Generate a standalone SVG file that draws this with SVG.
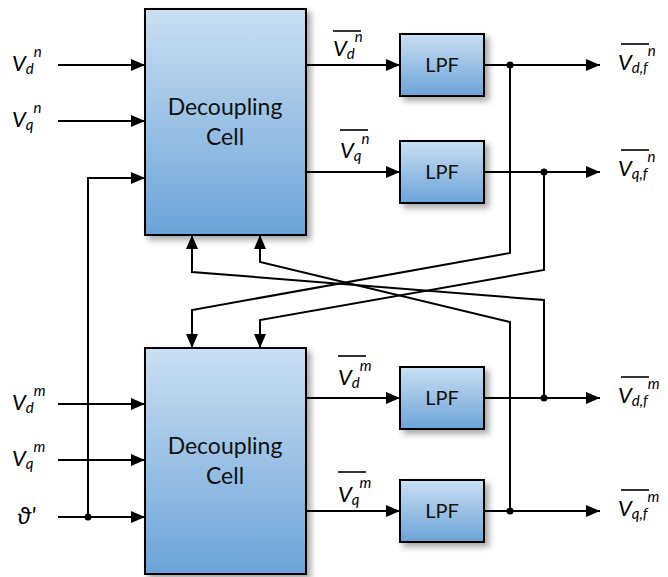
<svg xmlns="http://www.w3.org/2000/svg" width="668" height="577" viewBox="0 0 668 577">
  <defs>
    <linearGradient id="blue" x1="0" y1="0" x2="0" y2="1">
      <stop offset="0" stop-color="#cadff3"/>
      <stop offset="1" stop-color="#6ba3d8"/>
    </linearGradient>
    <filter id="shadow" x="-20%" y="-20%" width="150%" height="150%">
      <feDropShadow dx="4" dy="4" stdDeviation="3" flood-color="#000" flood-opacity="0.35"/>
    </filter>
    <marker id="arrow" markerUnits="userSpaceOnUse" markerWidth="14" markerHeight="12" refX="14" refY="6" orient="auto">
      <path d="M0,0 L14,6 L0,12 z" fill="#000"/>
    </marker>
    <style>
      .box { fill: url(#blue); stroke: #000; stroke-width: 2; filter: url(#shadow); }
      .ln { fill: none; stroke: #000; stroke-width: 2; }
      .arr { marker-end: url(#arrow); }
      .ovl { stroke: #000; stroke-width: 1.6; }
      .dot { fill: #000; }
      .name { font-family: Lato, "Open Sans", sans-serif; font-size: 23px; fill: #111; text-anchor: middle; }
      .lpf { font-family: Lato, "Open Sans", sans-serif; font-size: 20px; fill: #111; text-anchor: middle; }
      .lbl { font-family: Lato, "DejaVu Sans", sans-serif; font-style: italic; font-size: 22px; fill: #000; }
      .s { font-size: 15px; }
    </style>
  </defs>

  <!-- decoupling cells -->
  <g id="cell-n">
    <rect class="box" x="145" y="9" width="161" height="226"/>
    <text class="name" x="225" y="115">Decoupling</text>
    <text class="name" x="225" y="145">Cell</text>
  </g>
  <g id="cell-m">
    <rect class="box" x="145" y="348" width="161" height="226"/>
    <text class="name" x="225" y="454">Decoupling</text>
    <text class="name" x="225" y="484">Cell</text>
  </g>

  <!-- low-pass filters -->
  <g id="lpf-dn">
    <rect class="box" x="400" y="34" width="84" height="62"/>
    <text class="lpf" x="442" y="72">LPF</text>
  </g>
  <g id="lpf-qn">
    <rect class="box" x="400" y="141" width="84" height="62"/>
    <text class="lpf" x="442" y="179">LPF</text>
  </g>
  <g id="lpf-dm">
    <rect class="box" x="400" y="367" width="84" height="62"/>
    <text class="lpf" x="442" y="405">LPF</text>
  </g>
  <g id="lpf-qm">
    <rect class="box" x="400" y="480" width="84" height="62"/>
    <text class="lpf" x="442" y="518">LPF</text>
  </g>

  <!-- connectors -->
  <g id="connectors">
    <!-- inputs -->
    <path class="ln arr" d="M58,65 H145"/>
    <path class="ln arr" d="M58,121 H145"/>
    <path class="ln arr" d="M88,517 V178 H145"/>
    <path class="ln arr" d="M58,404 H145"/>
    <path class="ln arr" d="M58,460 H145"/>
    <path class="ln arr" d="M58,517 H145"/>
    <!-- cell outputs to filters -->
    <path class="ln arr" d="M306,65 H400"/>
    <path class="ln arr" d="M306,172 H400"/>
    <path class="ln arr" d="M306,398 H400"/>
    <path class="ln arr" d="M306,511 H400"/>
    <!-- filtered outputs -->
    <path class="ln arr" d="M484,65 H600"/>
    <path class="ln arr" d="M484,172 H600"/>
    <path class="ln arr" d="M484,398 H600"/>
    <path class="ln arr" d="M484,511 H600"/>
    <!-- cross feedback between cells -->
    <path class="ln arr" d="M510,65 V253 L192,310 V348"/>
    <path class="ln arr" d="M544,172 V270 L260,320 V348"/>
    <path class="ln arr" d="M544,398 V300 L192,272 V235"/>
    <path class="ln arr" d="M510,511 V322 L260,262 V235"/>
    <!-- junctions -->
    <circle class="dot" cx="88" cy="517" r="3.5"/>
    <circle class="dot" cx="510" cy="65" r="3.5"/>
    <circle class="dot" cx="544" cy="172" r="3.5"/>
    <circle class="dot" cx="544" cy="398" r="3.5"/>
    <circle class="dot" cx="510" cy="511" r="3.5"/>
  </g>

  <!-- input labels -->
  <g id="labels-in">
    <text class="lbl" x="12" y="71">V<tspan class="s" dy="3">d</tspan><tspan class="s" dy="-17">n</tspan></text>
    <text class="lbl" x="12" y="127">V<tspan class="s" dy="3">q</tspan><tspan class="s" dy="-17">n</tspan></text>
    <text class="lbl" x="12" y="410">V<tspan class="s" dy="3">d</tspan><tspan class="s" dy="-17">m</tspan></text>
    <text class="lbl" x="12" y="466">V<tspan class="s" dy="3">q</tspan><tspan class="s" dy="-17">m</tspan></text>
    <text class="lbl" x="17" y="524" style="font-size:24px">ϑ'</text>
  </g>

  <!-- cell output labels -->
  <g id="labels-mid">
    <line class="ovl" x1="333" y1="31" x2="361" y2="31"/>
    <text class="lbl" x="333" y="56">V<tspan class="s" dy="3">d</tspan><tspan class="s" dy="-17">n</tspan></text>
    <line class="ovl" x1="340" y1="130" x2="368" y2="130"/>
    <text class="lbl" x="340" y="158">V<tspan class="s" dy="3">q</tspan><tspan class="s" dy="-17">n</tspan></text>
    <line class="ovl" x1="338" y1="356" x2="366" y2="356"/>
    <text class="lbl" x="338" y="385">V<tspan class="s" dy="3">d</tspan><tspan class="s" dy="-17">m</tspan></text>
    <line class="ovl" x1="338" y1="472" x2="366" y2="472"/>
    <text class="lbl" x="338" y="502">V<tspan class="s" dy="3">q</tspan><tspan class="s" dy="-17">m</tspan></text>
  </g>

  <!-- filtered output labels -->
  <g id="labels-out">
    <line class="ovl" x1="621" y1="44" x2="649" y2="44"/>
    <text class="lbl" x="618" y="70">V<tspan class="s" dy="3">d,f</tspan><tspan class="s" dy="-17">n</tspan></text>
    <line class="ovl" x1="621" y1="150" x2="649" y2="150"/>
    <text class="lbl" x="618" y="176">V<tspan class="s" dy="3">q,f</tspan><tspan class="s" dy="-17">n</tspan></text>
    <line class="ovl" x1="621" y1="377" x2="649" y2="377"/>
    <text class="lbl" x="618" y="403">V<tspan class="s" dy="3">d,f</tspan><tspan class="s" dy="-17">m</tspan></text>
    <line class="ovl" x1="621" y1="490" x2="649" y2="490"/>
    <text class="lbl" x="618" y="516">V<tspan class="s" dy="3">q,f</tspan><tspan class="s" dy="-17">m</tspan></text>
  </g>
</svg>
